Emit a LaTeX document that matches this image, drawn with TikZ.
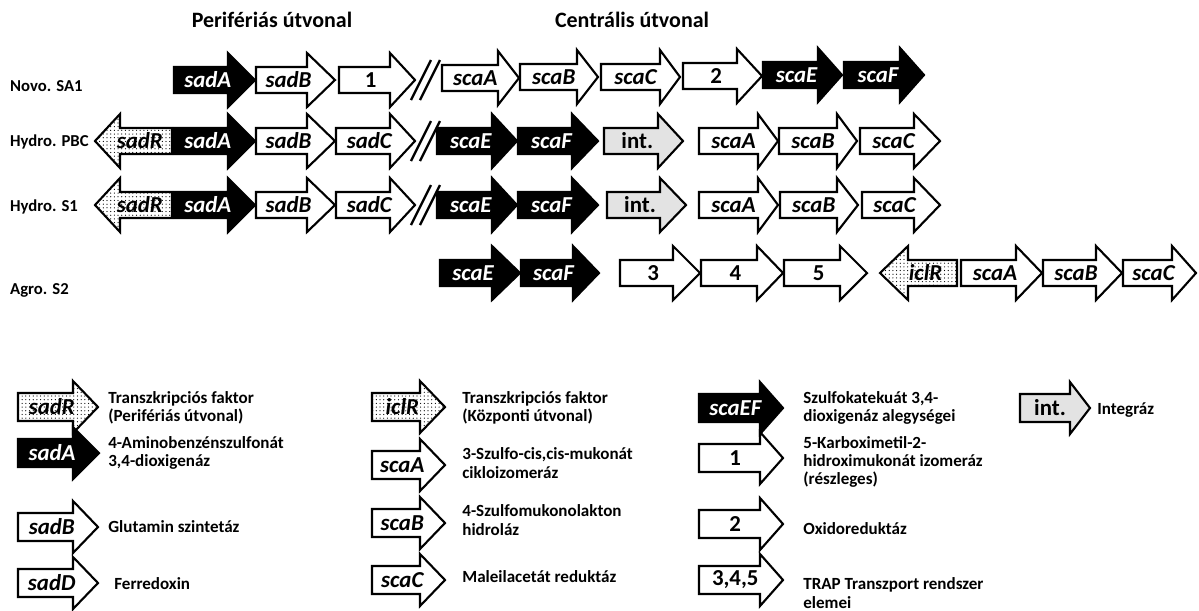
\documentclass[tikz,border=0pt]{standalone}
\usepackage{fontspec}
\setmainfont{Carlito}
\usetikzlibrary{patterns.meta}

% gene arrow: style, name, tail x, head base x, tip x, y, text
\newcommand{\genebody}{13}
\newcommand{\genehead}{27}
\newcommand{\gene}[7]{%
  \draw[#1] (#3,{#6-\genebody}) -- (#4,{#6-\genebody}) -- (#4,{#6-\genehead}) -- (#5,#6)
    -- (#4,{#6+\genehead}) -- (#4,{#6+\genebody}) -- (#3,{#6+\genebody}) -- cycle;
  \node[gene text, #1 text] (#2) at ({(#3+(#4+#5)/2)/2},#6) {#7};
}

\begin{document}
\begin{tikzpicture}[x=0.02cm, y=-0.02cm,
    gene/.style={draw=black, line width=1.2pt, line join=miter},
    wgene/.style={gene, fill=white},
    ngene/.style={gene, fill=white},
    bgene/.style={gene, fill=black},
    igene/.style={gene, fill=gray!22},
    dgene/.style={gene, preaction={fill=white}, pattern={Dots[distance=2.1pt, radius=0.35pt]}},
    gene text/.style={font=\bfseries\itshape\fontsize{13}{15}\selectfont, inner sep=0pt},
    wgene text/.style={},
    dgene text/.style={},
    bgene text/.style={text=white},
    ngene text/.style={font=\bfseries\fontsize{13}{15}\selectfont},
    igene text/.style={font=\bfseries\fontsize{13}{15}\selectfont},
    cut/.style={line width=1.3pt},
    strain/.style={anchor=west, font=\bfseries\fontsize{9.5}{11}\selectfont},
    heading/.style={font=\bfseries\fontsize{12.5}{15}\selectfont},
    desc/.style={anchor=west, align=left, inner sep=0pt, font=\bfseries\fontsize{9.7}{10.4}\selectfont}
]
\useasboundingbox (0,0) rectangle (1199,610);

% === HEADINGS ===
\node[heading] (periph) at (272,20) {Perifériás útvonal};
\node[heading] (central) at (632,20) {Centrális útvonal};

% === STRAIN LABELS ===
\node[strain] (novo) at (4,86) {Novo. SA1};
\node[strain] (hpbc) at (4,142) {Hydro. PBC};
\node[strain] (hs1) at (4,207) {Hydro. S1};
\node[strain] (agro) at (4,290) {Agro. S2};

% === ROW 1: Novo. SA1 ===
\gene{bgene}{aSadA}{174}{228}{255}{80}{sadA}
\gene{wgene}{aSadB}{256}{307}{335}{80}{sadB}
\gene{ngene}{aOne}{339}{390}{415}{80}{1}
\gene{wgene}{aScaA}{442}{498}{519}{78}{scaA}
\gene{wgene}{aScaB}{520}{577}{598}{77}{scaB}
\gene{wgene}{aScaC}{601}{660}{680}{77}{scaC}
\gene{ngene}{aTwo}{683}{737}{762}{76}{2}
\gene{bgene}{aScaE}{763}{818}{842}{75}{scaE}
\gene{bgene}{aScaF}{844}{900}{924}{75}{scaF}

% === ROW 2: Hydro. PBC ===
\gene{dgene}{bSadR}{172}{120}{95}{141}{sadR}
\gene{bgene}{bSadA}{174}{228}{255}{141}{sadA}
\gene{wgene}{bSadB}{256}{307}{335}{141}{sadB}
\gene{wgene}{bSadC}{336}{390}{415}{141}{sadC}
\gene{bgene}{bScaE}{437}{492}{517}{141}{scaE}
\gene{bgene}{bScaF}{518}{572}{598}{141}{scaF}
\gene{igene}{bInt}{604}{658}{683}{141}{int.}
\gene{wgene}{bScaA}{699}{758}{778}{141}{scaA}
\gene{wgene}{bScaB}{779}{837}{857}{141}{scaB}
\gene{wgene}{bScaC}{860}{914}{940}{141}{scaC}

% === ROW 3: Hydro. S1 ===
\gene{dgene}{cSadR}{172}{120}{95}{205}{sadR}
\gene{bgene}{cSadA}{174}{228}{255}{205}{sadA}
\gene{wgene}{cSadB}{256}{307}{335}{205}{sadB}
\gene{wgene}{cSadC}{336}{390}{415}{205}{sadC}
\gene{bgene}{cScaE}{437}{492}{517}{205}{scaE}
\gene{bgene}{cScaF}{518}{572}{598}{205}{scaF}
\gene{igene}{cInt}{607}{660}{686}{205}{int.}
\gene{wgene}{cScaA}{699}{758}{778}{205}{scaA}
\gene{wgene}{cScaB}{780}{837}{858}{205}{scaB}
\gene{wgene}{cScaC}{862}{914}{940}{205}{scaC}

% breaks between the two pathways
\foreach \c in {80,141,205} {
  \draw[cut] (411,\c+20) -- (431,\c-20);
  \draw[cut] (420,\c+20) -- (440,\c-20);
}

% === ROW 4: Agro. S2 ===
\gene{bgene}{dScaE}{440}{492}{520}{273}{scaE}
\gene{bgene}{dScaF}{521}{573}{599}{273}{scaF}
\gene{ngene}{dThree}{620}{673}{700}{273}{3}
\gene{ngene}{dFour}{701}{757}{783}{273}{4}
\gene{ngene}{dFive}{784}{840}{867}{273}{5}
\gene{dgene}{dIclR}{957}{908}{880}{273}{iclR}
\gene{wgene}{dScaA}{961}{1016}{1042}{273}{scaA}
\gene{wgene}{dScaB}{1043}{1096}{1122}{273}{scaB}
\gene{wgene}{dScaC}{1123}{1172}{1196}{273}{scaC}

% === LEGEND ===
\renewcommand{\genebody}{14}
\renewcommand{\genehead}{26}
% column 1
\gene{dgene}{kSadR}{18}{73}{98}{407}{sadR}
\gene{bgene}{kSadA}{18}{73}{99}{453}{sadA}
\gene{wgene}{kSadB}{18}{73}{98}{527}{sadB}
\gene{wgene}{kSadD}{18}{73}{98}{583}{sadD}
\node[desc] (tSadR) at (108,408) {Transzkripciós faktor\\(Perifériás útvonal)};
\node[desc] (tSadA) at (108,453) {4-Aminobenzénszulfonát\\3,4-dioxigenáz};
\node[desc] (tSadB) at (108,527) {Glutamin szintetáz};
\node[desc] (tSadD) at (114,584) {Ferredoxin};

% column 2
\gene{dgene}{kIclR}{372}{420}{445}{407}{iclR}
\gene{wgene}{kScaA}{372}{420}{445}{465}{scaA}
\gene{wgene}{kScaB}{372}{420}{445}{523}{scaB}
\gene{wgene}{kScaC}{372}{420}{445}{580}{scaC}
\node[desc] (tIclR) at (462,408) {Transzkripciós faktor\\(Központi útvonal)};
\node[desc] (tScaA) at (462,463) {3-Szulfo-cis,cis-mukonát\\cikloizomeráz};
\node[desc] (tScaB) at (462,520) {4-Szulfomukonolakton\\hidroláz};
\node[desc] (tScaC) at (462,577) {Maleilacetát reduktáz};

% column 3
\gene{bgene}{kScaEF}{699}{760}{783}{408}{scaEF}
\gene{ngene}{kOne}{699}{760}{783}{458}{1}
\gene{ngene}{kTwo}{699}{760}{783}{524}{2}
\gene{ngene}{kTrap}{699}{760}{783}{580}{3,4,5}
\node[desc] (tScaEF) at (803,408) {Szulfokatekuát 3,4-\\dioxigenáz alegységei};
\node[desc] (tOne) at (803,462) {5-Karboximetil-2-\\hidroximukonát izomeráz\\(részleges)};
\node[desc] (tTwo) at (803,529) {Oxidoreduktáz};
\node[desc] (tTrap) at (803,593) {TRAP Transzport rendszer\\elemei};

% column 4
\gene{igene}{kInt}{1020}{1070}{1090}{408}{int.}
\node[desc] (tInt) at (1097,410) {Integráz};

\end{tikzpicture}
\end{document}
